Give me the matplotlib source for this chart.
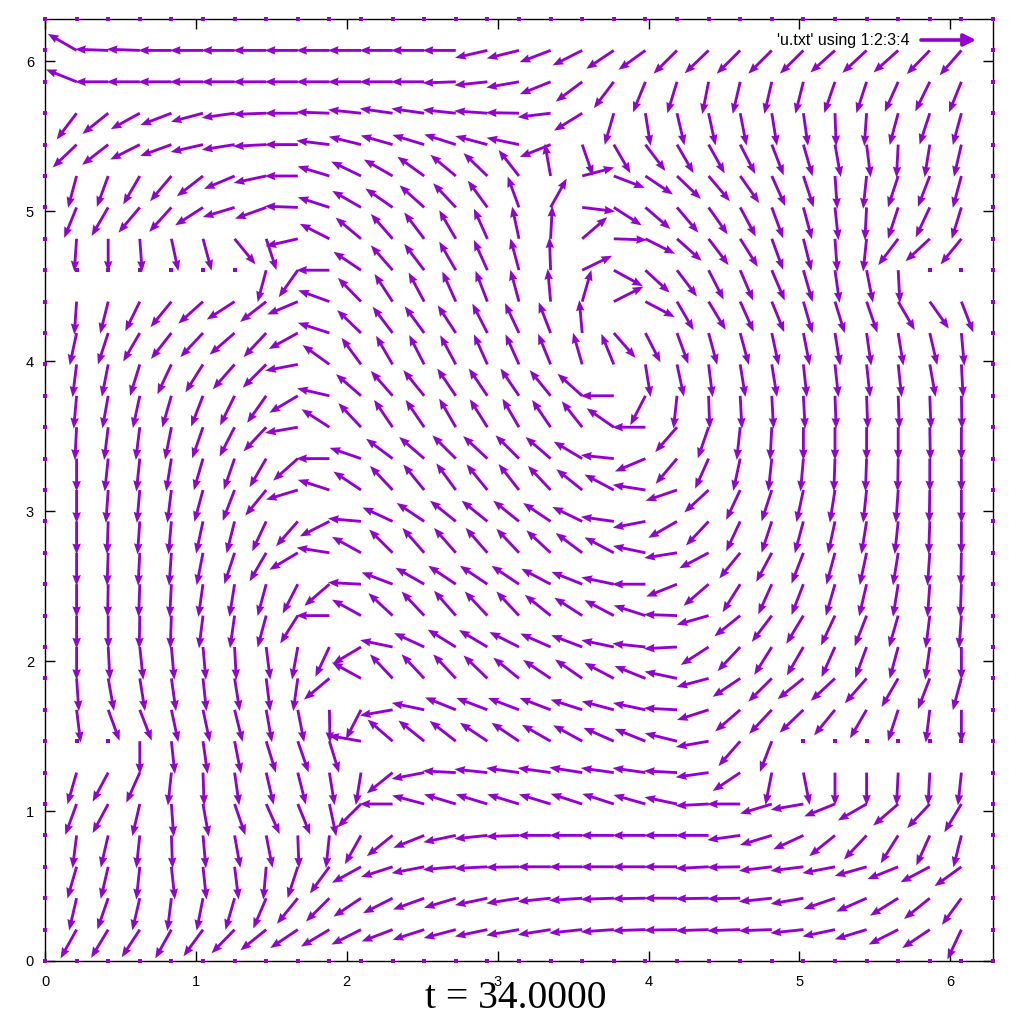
import matplotlib
matplotlib.use("Agg")
import matplotlib.pyplot as plt
import numpy as np

# data file grid: 31 x 31 points on [0, 2*pi]
n_pts = 31
xs = np.linspace(0, 2 * np.pi, n_pts)
ys = np.linspace(0, 2 * np.pi, n_pts)

# every arrow in the picture is a bit longer than one grid step
arrow_len = 0.22

# arrow direction (degrees, 0 = east) of the inner points
# first list is the top inner row (y index 29), last is y index 1; x index 1..29
# N = zero vector, drawn by gnuplot as a dot
N = None
angle_deg = [
    [150, 178, 178, 180, 180, 180, 180, 180, 180, 180, 180, 180, 180, 193, 194, 201, 207, 214, 216, 225, 224, 225, 225, 225, 222, 223, 222, 226, 229],
    [158, 180, 180, 180, 180, 180, 180, 180, 180, 180, 180, 180, 182, 186, 190, 202, 217, 233, 248, 253, 259, 257, 257, 256, 251, 252, 246, 244, 248],
    [233, 219, 209, 201, 195, 188, 182, 180, 178, 174, 172, 172, 174, 176, 179, 187, 212, 254, 279, 283, 282, 281, 279, 278, 272, 266, 255, 252, 255],
    [224, 218, 207, 200, 193, 189, 183, 180, 173, 166, 164, 163, 162, 165, 168, 202, 289, 300, 307, 300, 299, 297, 291, 286, 280, 277, 267, 261, 257],
    [255, 250, 240, 230, 218, 203, 192, 180, 163, 154, 150, 144, 140, 136, 128, 100, 15, 339, 326, 316, 310, 305, 294, 288, 274, 264, 252, 249, 255],
    [248, 240, 230, 228, 213, 197, 200, 178, 162, 150, 145, 138, 133, 126, 110, 61, 353, 327, 319, 310, 305, 298, 290, 285, 276, 267, 252, 245, 253],
    [266, 270, 274, 282, 285, 309, 288, 193, 153, 140, 131, 127, 120, 114, 102, 87, 41, 358, 333, 318, 307, 302, 290, 284, 274, 264, 233, 223, 231],
    [N, N, N, N, N, N, 255, 235, 180, 146, 131, 127, 120, 114, 105, 92, 26, 331, 317, 307, 297, 293, 293, 286, 278, 281, 273, N, N],
    [266, 256, 244, 231, 222, 213, 218, 203, 160, 134, 123, 118, 114, 111, 105, 95, 74, 27, 332, 300, 301, 294, 292, 286, 287, 289, 300, 305, 291],
    [258, 252, 240, 232, 227, 221, 227, 209, 162, 136, 127, 126, 123, 117, 115, 111, 95, 311, 297, 290, 285, 285, 282, 281, 279, 278, 279, 283, 275],
    [263, 259, 253, 245, 238, 229, 225, 191, 144, 126, 120, 117, 118, 114, 114, 112, 106, 112, 279, 282, 277, 279, 279, 276, 276, 276, 276, 280, 273],
    [265, 260, 258, 254, 249, 244, 235, 211, 167, 139, 131, 129, 124, 124, 124, 129, 138, 180, 243, 264, 272, 273, 273, 273, 272, 272, 272, 272, 271],
    [267, 263, 263, 259, 251, 243, 227, 190, 147, 133, 124, 124, 120, 122, 120, 124, 128, 145, 180, 229, 251, 264, 267, 270, 270, 270, 270, 271, 270],
    [270, 264, 264, 261, 254, 251, 240, 222, 180, 161, 143, 139, 135, 137, 135, 139, 149, 174, 203, 230, 246, 258, 264, 265, 268, 268, 269, 270, 270],
    [270, 266, 265, 263, 255, 249, 231, 197, 162, 146, 133, 129, 126, 129, 128, 133, 141, 152, 171, 199, 223, 245, 252, 258, 261, 264, 266, 269, 270],
    [270, 268, 266, 265, 258, 256, 245, 229, 207, 175, 155, 146, 141, 141, 141, 146, 154, 172, 191, 210, 227, 245, 252, 255, 258, 261, 264, 268, 270],
    [270, 268, 267, 266, 259, 252, 240, 211, 171, 151, 135, 131, 131, 131, 133, 137, 143, 152, 168, 189, 208, 231, 242, 249, 255, 258, 261, 266, 269],
    [270, 269, 268, 267, 262, 261, 255, 243, 221, 177, 159, 150, 146, 146, 146, 152, 158, 168, 180, 202, 221, 238, 246, 249, 254, 257, 261, 266, 268],
    [270, 270, 269, 268, 263, 262, 255, 238, 180, 151, 137, 133, 131, 133, 133, 141, 147, 152, 162, 178, 196, 219, 233, 239, 245, 249, 254, 263, 266],
    [270, 273, 276, 275, 275, 273, 277, 260, 245, 211, 168, 155, 148, 149, 153, 156, 159, 168, 174, 183, 213, 227, 238, 240, 246, 250, 255, 262, 270],
    [274, 280, 279, 278, 276, 279, 277, 262, 220, 151, 133, 133, 133, 136, 141, 146, 145, 152, 158, 168, 195, 214, 225, 219, 223, 229, 240, 249, 255],
    [277, 290, 291, 282, 282, 284, 280, 281, 271, 243, 190, 168, 158, 159, 159, 159, 162, 165, 168, 177, 198, 221, 227, 224, 231, 240, 252, 263, 270],
    [N, N, 270, 276, 278, 281, 287, 289, 287, 170, 139, 141, 142, 146, 146, 150, 151, 156, 158, 166, 190, 229, 249, N, N, N, N, N, N],
    [254, 242, 246, 264, 272, 278, 283, 284, 279, 261, 219, 191, 177, 174, 172, 172, 171, 172, 172, 177, 188, 214, 259, 281, 270, 270, 267, 267, 264],
    [250, 242, 257, 274, 280, 289, 294, 292, 282, 225, 180, 165, 163, 163, 163, 163, 162, 162, 164, 168, 183, 180, 197, 190, 202, 210, 221, 227, 239],
    [263, 257, 264, 272, 275, 280, 281, 272, 264, 241, 219, 202, 192, 186, 182, 180, 180, 180, 180, 180, 180, 188, 197, 205, 219, 227, 238, 246, 256],
    [254, 257, 264, 276, 276, 277, 265, 252, 234, 209, 198, 191, 185, 183, 181, 180, 180, 180, 180, 180, 183, 181, 187, 187, 191, 196, 202, 208, 216],
    [257, 251, 257, 263, 259, 254, 247, 231, 225, 214, 207, 200, 197, 192, 189, 186, 184, 182, 181, 180, 181, 181, 186, 190, 199, 204, 212, 219, 234],
    [241, 239, 237, 241, 234, 226, 219, 214, 211, 207, 201, 198, 195, 192, 190, 189, 186, 184, 182, 181, 182, 182, 182, 186, 192, 197, 207, 214, 245],
]

title_text = "t = 34.0000"
legend_text = "'u.txt' using 1:2:3:4"
purple = "#9400d3"


def build_field():
    X, Y = np.meshgrid(xs, ys)
    U = np.zeros_like(X)
    V = np.zeros_like(X)
    for r, row in enumerate(angle_deg):
        j = n_pts - 2 - r
        for c, a in enumerate(row):
            if a is None:
                continue
            i = c + 1
            U[j, i] = arrow_len * np.cos(np.radians(a))
            V[j, i] = arrow_len * np.sin(np.radians(a))
    return X, Y, U, V


def main():
    X, Y, U, V = build_field()
    moving = (U != 0) | (V != 0)

    fig = plt.figure(figsize=(10.24, 10.24), dpi=100)
    ax = fig.add_axes([45 / 1024, 63 / 1024, 948 / 1024, 942 / 1024])

    ax.quiver(
        X[moving], Y[moving], U[moving], V[moving],
        angles="xy", scale_units="xy", scale=1,
        color=purple, width=0.003,
        headwidth=3.0, headlength=3.8, headaxislength=3.5,
        zorder=3,
    )
    # zero vectors show up as small dots
    ax.scatter(X[~moving], Y[~moving], marker="s", s=6, color=purple,
               linewidths=0, zorder=4, clip_on=False)

    ax.set_xlim(0, 2 * np.pi)
    ax.set_ylim(0, 2 * np.pi)
    ax.set_xticks(range(7))
    ax.set_yticks(range(7))
    ax.tick_params(direction="in", length=7, width=1, top=True, right=True,
                   labelsize=10.5)
    ax.tick_params(axis="x", pad=10)
    ax.tick_params(axis="y", pad=8)
    for lab in ax.get_xticklabels() + ax.get_yticklabels():
        lab.set_family("Liberation Sans")
    for s in ax.spines.values():
        s.set_linewidth(1)

    # key in the top right corner
    fig.text(910 / 1024, 1 - 40 / 1024, legend_text, ha="right", va="center",
             fontsize=11.5, family="Liberation Sans")
    ax.annotate("", xy=(976 / 1024, 1 - 40 / 1024), xytext=(921 / 1024, 1 - 40 / 1024),
                xycoords="figure fraction", textcoords="figure fraction",
                arrowprops=dict(arrowstyle="-|>", color=purple, lw=2.6,
                                mutation_scale=18, shrinkA=0, shrinkB=0))

    fig.text(516 / 1024, 1 - 999 / 1024, title_text, ha="center", va="center",
             fontsize=28.5, family="Liberation Serif")

    fig.savefig("out.png", dpi=100)


if __name__ == "__main__":
    main()
